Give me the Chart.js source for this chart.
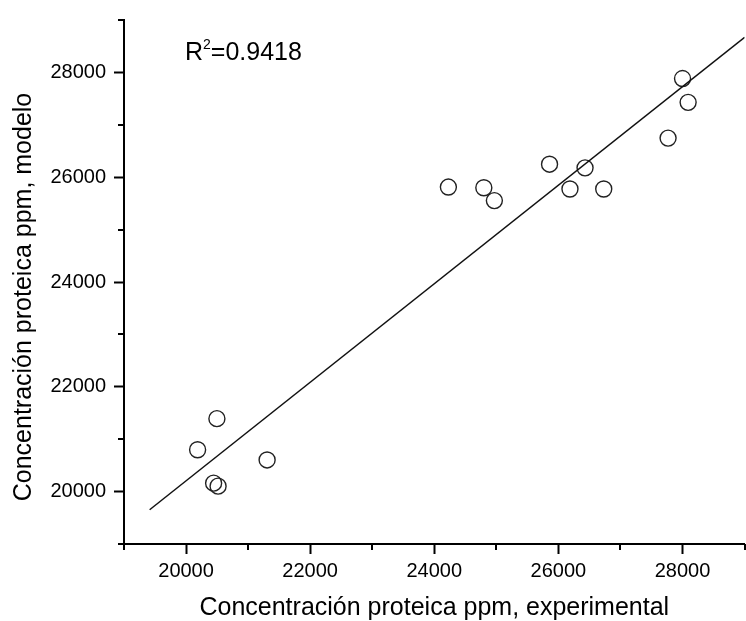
<!DOCTYPE html>
<html>
<head>
<meta charset="utf-8">
<script src="https://cdn.jsdelivr.net/npm/chart.js@4"></script>
<style>
  html, body { margin: 0; padding: 0; background: #fff; overflow: hidden; }
  canvas { display: block; }
</style>
</head>
<body>
<canvas id="chart" width="754" height="621"></canvas>
<script>
// measured (experimental) vs model protein concentration, ppm
const experimental = [20497, 20186, 21306, 20444, 20516, 24227, 24798, 24968, 25857, 26429, 26186, 26730, 28000, 28090, 27767];
const modelo       = [21392, 20799, 20604, 20161, 20104, 25812, 25799, 25553, 26248, 26178, 25775, 25775, 27883, 27428, 26746];

// end points of the fitted line
const fitX = [19413, 29000];
const fitY = [19653, 28670];

const xTitle = 'Concentración proteica ppm, experimental';
const yTitle = 'Concentración proteica ppm, modelo';
const r2Label = ['R', '2', '=0.9418'];

const FONT = "'Liberation Sans', Arial, sans-serif";

const points = experimental.map((x, i) => ({x, y: modelo[i]}));
const fitLine = fitX.map((x, i) => ({x, y: fitY[i]}));

const isMajor = v => v % 2000 === 0;

// chart.js has no minor ticks, so draw the short ones here
const minorTicks = {
    id: 'minorTicks',
    afterDraw(chart) {
        const {ctx, scales: {x, y}} = chart;
        ctx.save();
        ctx.strokeStyle = '#000';
        ctx.lineWidth = 2;
        ctx.beginPath();
        x.ticks.forEach(t => {
            if (isMajor(t.value)) return;
            const px = Math.round(x.getPixelForValue(t.value));
            ctx.moveTo(px, x.top);
            ctx.lineTo(px, x.top + 6);
        });
        y.ticks.forEach(t => {
            if (isMajor(t.value)) return;
            const py = Math.round(y.getPixelForValue(t.value));
            ctx.moveTo(y.right - 6, py);
            ctx.lineTo(y.right, py);
        });
        ctx.stroke();
        ctx.restore();
    }
};

// R² note and the y title (sits a bit lower than the axis centre in the original)
const labels = {
    id: 'labels',
    afterDraw(chart) {
        const ctx = chart.ctx;
        ctx.save();
        ctx.fillStyle = '#000';
        ctx.textBaseline = 'alphabetic';
        let x = 185;
        const base = 60;
        ctx.font = '25px ' + FONT;
        ctx.fillText(r2Label[0], x, base);
        x += ctx.measureText(r2Label[0]).width;
        ctx.font = '14px ' + FONT;
        ctx.fillText(r2Label[1], x, base - 11);
        x += ctx.measureText(r2Label[1]).width;
        ctx.font = '25px ' + FONT;
        ctx.fillText(r2Label[2], x, base);

        ctx.translate(24, 297);
        ctx.rotate(-Math.PI / 2);
        ctx.font = '25px ' + FONT;
        ctx.textAlign = 'center';
        ctx.textBaseline = 'middle';
        ctx.fillText(yTitle, 0, 0);
        ctx.restore();
    }
};

const axisCommon = {
    type: 'linear',
    min: 19000,
    max: 29000,
    border: {display: true, color: '#000', width: 2},
    grid: {
        drawOnChartArea: false,
        drawTicks: true,
        tickLength: 10,
        tickWidth: 2,
        tickColor: c => isMajor(c.tick.value) ? '#000' : 'rgba(0,0,0,0)'
    }
};

new Chart(document.getElementById('chart').getContext('2d'), {
    type: 'scatter',
    data: {
        datasets: [
            {
                type: 'line',
                data: fitLine,
                borderColor: '#111',
                borderWidth: 1.5,
                pointRadius: 0,
                fill: false
            },
            {
                data: points,
                pointStyle: 'circle',
                pointRadius: 8,
                pointBackgroundColor: 'rgba(0,0,0,0)',
                pointBorderColor: '#222',
                pointBorderWidth: 1.4
            }
        ]
    },
    options: {
        responsive: false,
        animation: false,
        layout: {padding: 0},
        plugins: {
            legend: {display: false},
            tooltip: {enabled: false}
        },
        scales: {
            x: {
                ...axisCommon,
                position: 'bottom',
                afterFit: s => { s.height = 77; },
                ticks: {
                    stepSize: 1000,
                    autoSkip: false,
                    maxRotation: 0,
                    padding: 5,
                    color: '#000',
                    font: {family: FONT, size: 20},
                    callback: v => isMajor(v) ? String(v) : ''
                },
                title: {
                    display: true,
                    text: xTitle,
                    color: '#000',
                    font: {family: FONT, size: 25, lineHeight: 1},
                    padding: {top: 0, bottom: 0}
                }
            },
            y: {
                ...axisCommon,
                position: 'left',
                afterFit: s => { s.width = 124; },
                ticks: {
                    stepSize: 1000,
                    autoSkip: false,
                    padding: 8,
                    color: '#000',
                    font: {family: FONT, size: 20},
                    callback: v => isMajor(v) ? String(v) : ''
                },
                title: {display: false}
            }
        }
    },
    plugins: [minorTicks, labels]
});
</script>
</body>
</html>
